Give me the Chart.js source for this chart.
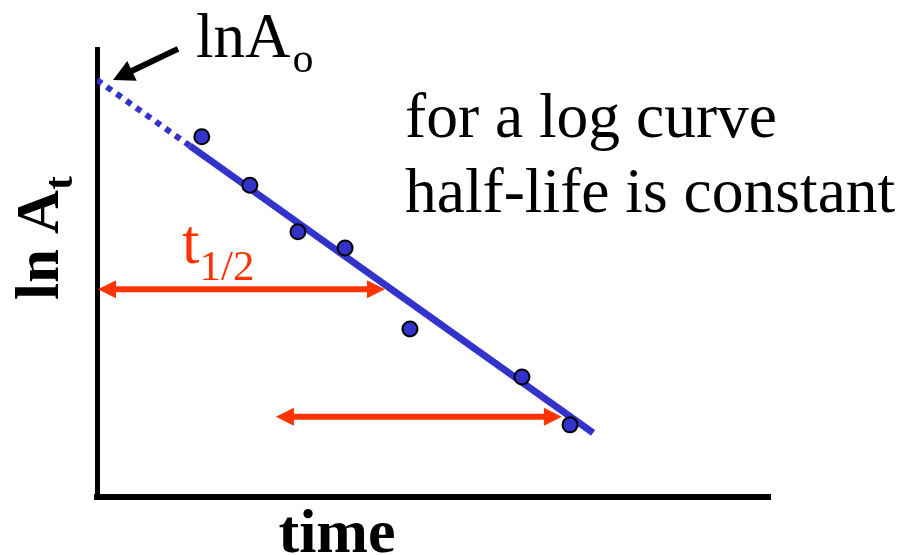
<!DOCTYPE html>
<html>
<head>
<meta charset="utf-8">
<script src="https://cdn.jsdelivr.net/npm/chart.js@4.4.0/dist/chart.umd.min.js"></script>
<style>
  html, body { margin: 0; padding: 0; background: #fff; }
  #wrap { width: 906px; height: 555px; position: relative; }
</style>
</head>
<body>
<div id="wrap"><canvas id="myChart"></canvas></div>
<script>
// measured points (time, ln A)
const timeValues = [2.18, 3.18, 4.18, 5.16, 6.51, 8.84, 9.84];
const lnAValues = [8.04, 6.96, 5.92, 5.56, 3.75, 2.68, 1.61];

// straight fit line, and its dotted extrapolation back to t = 0
const fitTime = [1.93, 10.32];
const fitLnA = [7.84, 1.43];
const extrapTime = [0, 1.93];
const extrapLnA = [9.31, 7.84];

// two half-life arrows (same length)
const arrowStart = [0, 3.70];
const arrowEnd = [5.99, 9.67];
const arrowLevel = [4.64, 1.79];

const xRange = [0, 14];
const yRange = [0, 10];

const blue = "#3333cc";
const red = "#ff3300";
const serif = '"Liberation Serif", "Times New Roman", serif';

const toXY = (xs, ys) => xs.map((x, i) => ({ x: x, y: ys[i] }));

function arrowHead(ctx, x, y, dir, len, half) {
  const c = Math.cos(dir), s = Math.sin(dir);
  ctx.beginPath();
  ctx.moveTo(x, y);
  ctx.lineTo(x - len * c + half * s, y - len * s - half * c);
  ctx.lineTo(x - len * c - half * s, y - len * s + half * c);
  ctx.closePath();
  ctx.fill();
}

const notes = {
  id: "notes",
  afterDatasetsDraw(chart) {
    const ctx = chart.ctx;
    const xs = chart.scales.x;
    const ys = chart.scales.y;
    ctx.save();

    // red double arrows
    ctx.strokeStyle = red;
    ctx.fillStyle = red;
    ctx.lineWidth = 6;
    for (let i = 0; i < arrowStart.length; i++) {
      const x1 = xs.getPixelForValue(arrowStart[i]) + 1;
      const x2 = xs.getPixelForValue(arrowEnd[i]);
      const y = ys.getPixelForValue(arrowLevel[i]);
      ctx.beginPath();
      ctx.moveTo(x1 + 14, y);
      ctx.lineTo(x2 - 14, y);
      ctx.stroke();
      arrowHead(ctx, x1, y, Math.PI, 18, 9);
      arrowHead(ctx, x2, y, 0, 18, 9);
    }

    // black arrow pointing at the intercept
    const tipX = xs.getPixelForValue(extrapTime[0]) + 16;
    const tipY = ys.getPixelForValue(extrapLnA[0]);
    const tailX = tipX + 65, tailY = tipY - 31;
    const dir = Math.atan2(tipY - tailY, tipX - tailX);
    ctx.strokeStyle = "#000";
    ctx.fillStyle = "#000";
    ctx.lineWidth = 6;
    ctx.beginPath();
    ctx.moveTo(tailX, tailY);
    ctx.lineTo(tipX - 16 * Math.cos(dir), tipY - 16 * Math.sin(dir));
    ctx.stroke();
    arrowHead(ctx, tipX, tipY, dir, 21, 11);

    ctx.textBaseline = "alphabetic";
    ctx.textAlign = "left";

    // lnA_o
    ctx.fillStyle = "#000";
    ctx.font = "63px " + serif;
    ctx.fillText("lnA", 196, 57);
    let w = ctx.measureText("lnA").width;
    ctx.font = "42px " + serif;
    ctx.fillText("o", 196 + w + 2, 72);

    // t_1/2
    ctx.fillStyle = red;
    ctx.font = "63px " + serif;
    ctx.fillText("t", 182, 263);
    w = ctx.measureText("t").width;
    ctx.font = "43px " + serif;
    ctx.fillText("1/2", 182 + w, 280);

    // note text
    ctx.fillStyle = "#000";
    ctx.font = "63.5px " + serif;
    ctx.fillText("for a log curve", 405, 137);
    ctx.fillText("half-life is constant", 405, 212);

    // axis titles
    ctx.font = "bold 62px " + serif;
    ctx.textAlign = "center";
    ctx.fillText("time", 337, 552);

    ctx.save();
    ctx.translate(58, 300);
    ctx.rotate(-Math.PI / 2);
    ctx.textAlign = "left";
    ctx.font = "bold 61px " + serif;
    ctx.fillText("ln A", 0, 0);
    w = ctx.measureText("ln A").width;
    ctx.font = "bold 41px " + serif;
    ctx.fillText("t", w, 14);
    ctx.restore();

    ctx.restore();
  },
};

const ctx = document.getElementById("myChart");

new Chart(ctx, {
  type: "scatter",
  data: {
    datasets: [
      {
        label: "data",
        data: toXY(timeValues, lnAValues),
        pointRadius: 7.5,
        pointBackgroundColor: blue,
        pointBorderColor: "#000",
        pointBorderWidth: 2,
        showLine: false,
      },
      {
        label: "fit",
        data: toXY(fitTime, fitLnA),
        showLine: true,
        borderColor: blue,
        borderWidth: 7,
        pointRadius: 0,
        borderCapStyle: "butt",
      },
      {
        label: "extrapolation",
        data: toXY(extrapTime, extrapLnA),
        showLine: true,
        borderColor: blue,
        borderWidth: 6,
        borderDash: [6, 6],
        pointRadius: 0,
      },
    ],
  },
  options: {
    responsive: true,
    maintainAspectRatio: false,
    animation: false,
    layout: {
      padding: { left: 97, right: 136, top: 49, bottom: 58 },
    },
    scales: {
      x: {
        type: "linear",
        min: xRange[0],
        max: xRange[1],
        ticks: { display: false },
        grid: { display: false, drawTicks: false },
        border: { display: true, color: "#000", width: 6 },
      },
      y: {
        type: "linear",
        min: yRange[0],
        max: yRange[1],
        ticks: { display: false },
        grid: { display: false, drawTicks: false },
        border: { display: true, color: "#000", width: 5 },
      },
    },
    plugins: {
      legend: { display: false },
      tooltip: { enabled: false },
    },
  },
  plugins: [notes],
});
</script>
</body>
</html>
